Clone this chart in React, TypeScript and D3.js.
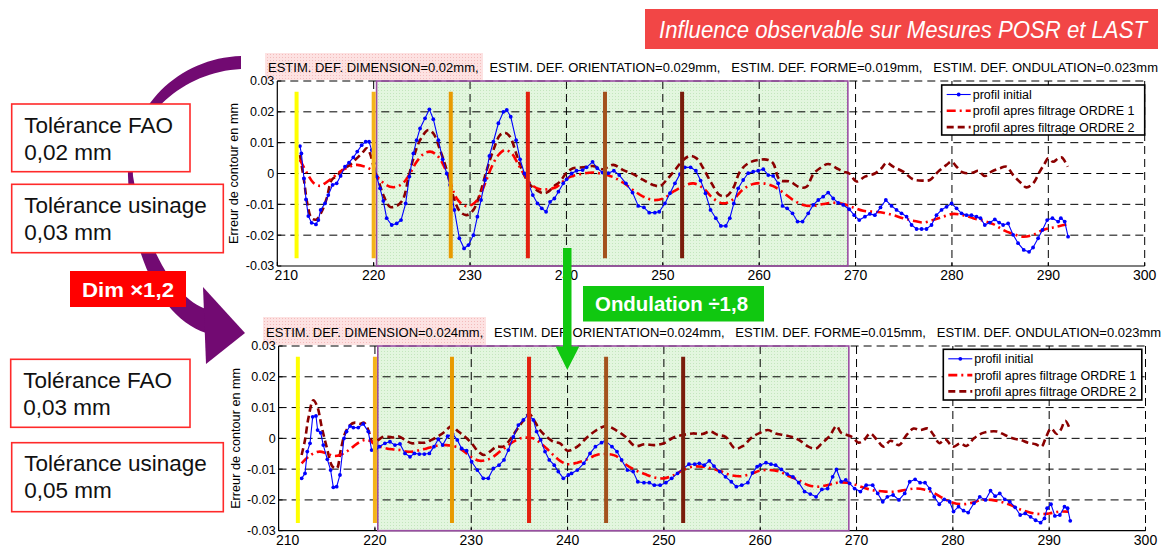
import React from 'react';
import * as d3 from 'd3';

type Pt = [number, number];

// axes / annotations
const xTicks = [210, 220, 230, 240, 250, 260, 270, 280, 290, 300];
const yTicks = [-0.03, -0.02, -0.01, 0, 0.01, 0.02, 0.03];
const barPositions = [212, 220, 228, 236, 244, 252];
const barColors = ['#ffff00', '#f4b41a', '#e89a00', '#e3200f', '#a3511c', '#7a1c0c'];
const barRange: Pt = [-0.0275, 0.0265];
const zone: Pt = [220.3, 269.2];
const legendLabels = ['profil initial', 'profil apres filtrage ORDRE 1', 'profil apres filtrage ORDRE 2'];
const title = 'Influence observable sur Mesures POSR et LAST';
const topSubtitle =
  'ESTIM. DEF. DIMENSION=0.02mm,   ESTIM. DEF. ORIENTATION=0.029mm,   ESTIM. DEF. FORME=0.019mm,   ESTIM. DEF. ONDULATION=0.023mm';
const bottomSubtitle =
  'ESTIM. DEF. DIMENSION=0.024mm,   ESTIM. DEF. ORIENTATION=0.024mm,   ESTIM. DEF. FORME=0.015mm,   ESTIM. DEF. ONDULATION=0.023mm';
const topTolerances = [['Tolérance FAO', '0,02 mm'], ['Tolérance usinage', '0,03 mm']];
const bottomTolerances = [['Tolérance FAO', '0,03 mm'], ['Tolérance usinage', '0,05 mm']];
const dimLabel = 'Dim ×1,2';
const ondLabel = 'Ondulation ÷1,8';

// top chart (Dim x1)
const topInitial: Pt[] = [
  [212.35, 0.0089], [212.5, 0.0065], [212.77, -0.0016], [212.98, -0.0084], [213.22, -0.0138], [213.56, -0.016],
  [214.01, -0.0165], [214.26, -0.0151], [214.5, -0.0118], [214.95, -0.0097], [215.29, -0.007], [215.74, -0.0037],
  [216.16, -0.0032], [216.57, -0.0008], [217.02, 0.0022], [217.44, 0.0035], [217.89, 0.0052], [218.3, 0.0071],
  [218.75, 0.0092], [219.17, 0.0103], [219.52, 0.0103], [219.79, 0.0076], [220.03, 0.0033], [220.31, -0.001],
  [220.66, -0.0048], [221.0, -0.0089], [221.35, -0.0145], [221.87, -0.0167], [222.39, -0.0162], [222.84, -0.0151],
  [223.32, -0.0097], [223.7, -0.001], [224.12, 0.0065], [224.46, 0.0108], [224.81, 0.0146], [225.33, 0.0179],
  [225.78, 0.0208], [226.19, 0.0176], [226.71, 0.0108], [227.16, 0.0046], [227.58, 0.0], [227.92, -0.0037],
  [228.37, -0.0118], [228.89, -0.021], [229.38, -0.0243], [229.83, -0.0232], [230.35, -0.02], [230.76, -0.014],
  [231.14, -0.0086], [231.56, -0.0021], [232.01, 0.0057], [232.42, 0.0103], [232.94, 0.0163], [233.46, 0.02],
  [233.81, 0.0206], [234.22, 0.0184], [234.78, 0.0108], [235.19, 0.0046], [235.64, 0.0], [236.06, -0.0032],
  [236.51, -0.007], [236.99, -0.0097], [237.44, -0.0113], [237.89, -0.0124], [238.3, -0.0092], [238.75, -0.0081],
  [239.17, -0.0059], [239.67, -0.0032], [240.02, -0.0019], [240.54, 0.0], [241.05, 0.0009], [241.68, 0.0011],
  [242.09, 0.002], [242.71, 0.0038], [243.2, 0.0017], [243.75, 0.0003], [244.34, 0.0001], [244.92, 0.0009],
  [245.48, -0.0005], [246.17, -0.0032], [246.86, -0.0062], [247.45, -0.0105], [248.04, -0.011], [248.59, -0.0127],
  [249.18, -0.0127], [249.63, -0.0124], [250.22, -0.0097], [250.74, -0.0064], [251.26, -0.0032], [251.78, -0.0002],
  [252.29, 0.002], [252.88, 0.002], [253.43, 0.0009], [253.92, -0.0023], [254.43, -0.0064], [254.95, -0.0118],
  [255.5, -0.0145], [256.02, -0.017], [256.54, -0.017], [256.95, -0.0145], [257.37, -0.0097], [257.82, -0.0048],
  [258.34, -0.0021], [258.86, 0.0001], [259.38, 0.0006], [259.9, 0.0009], [260.42, 0.0014], [260.94, -0.0005],
  [261.45, -0.0008], [261.97, -0.0032], [262.42, -0.0105], [262.9, -0.0113], [263.46, -0.0129], [263.98, -0.0156],
  [264.5, -0.0156], [265.09, -0.0129], [265.61, -0.0102], [266.13, -0.0086], [266.64, -0.0075], [267.16, -0.0062],
  [267.68, -0.0081], [268.2, -0.0095], [268.72, -0.0102], [269.34, -0.0116], [269.86, -0.0135], [270.38, -0.0151],
  [270.97, -0.014], [271.48, -0.0131], [272.0, -0.0135], [272.59, -0.011], [273.14, -0.0086], [273.73, -0.0105],
  [274.25, -0.0118], [274.77, -0.0129], [275.29, -0.014], [275.81, -0.0167], [276.33, -0.018], [276.85, -0.018],
  [277.36, -0.018], [277.88, -0.0167], [278.4, -0.0135], [278.92, -0.0118], [279.44, -0.0108], [279.96, -0.0097],
  [280.48, -0.0113], [280.99, -0.0129], [281.51, -0.0135], [282.03, -0.0135], [282.55, -0.014], [282.96, -0.0145],
  [283.41, -0.0167], [283.93, -0.0159], [284.45, -0.0149], [284.9, -0.0159], [285.31, -0.0167], [285.83, -0.0162],
  [286.35, -0.0199], [286.86, -0.0226], [287.45, -0.0248], [288.0, -0.0254], [288.42, -0.024], [288.94, -0.021],
  [289.39, -0.0183], [289.88, -0.0151], [290.43, -0.0145], [291.02, -0.0156], [291.3, -0.0145], [291.7, -0.0156],
  [292.05, -0.0205],
];
const topOrdre1: Pt[] = [
  [212.35, 0.0044], [213.11, 0.0], [213.74, -0.003], [214.43, -0.004], [214.95, -0.0032], [215.64, -0.0016],
  [216.51, 0.0006], [217.37, 0.002], [218.24, 0.0028], [219.1, 0.0022], [219.79, 0.0011], [220.31, -0.0008],
  [221.0, -0.003], [221.7, -0.0043], [222.39, -0.0043], [223.08, -0.003], [223.77, 0.0], [224.46, 0.0038],
  [225.16, 0.0063], [225.85, 0.0071], [226.54, 0.006], [227.23, 0.0028], [227.92, -0.0026], [228.62, -0.0081],
  [229.48, -0.0105], [230.17, -0.0102], [230.87, -0.0081], [231.56, -0.0032], [232.25, 0.0022], [232.94, 0.006],
  [233.63, 0.0076], [234.33, 0.0065], [235.02, 0.0028], [235.71, -0.0008], [236.4, -0.0037], [237.27, -0.0051],
  [238.13, -0.0051], [239.0, -0.0043], [240.02, -0.0016], [240.7, -0.0008], [241.75, 0.0], [242.8, 0.0003],
  [243.8, -0.0002], [244.86, -0.0012], [245.9, -0.003], [246.93, -0.0054], [247.97, -0.0075], [249.0, -0.0086],
  [250.05, -0.0081], [251.08, -0.0059], [252.12, -0.0041], [253.16, -0.0032], [254.2, -0.0048], [255.23, -0.0081],
  [256.27, -0.0097], [257.3, -0.0084], [258.34, -0.0051], [259.38, -0.0034], [260.42, -0.0032], [261.45, -0.0041],
  [262.49, -0.0062], [263.53, -0.0086], [264.57, -0.0102], [265.61, -0.0105], [266.64, -0.0099], [267.68, -0.0095],
  [268.72, -0.0099], [269.75, -0.011], [270.79, -0.0121], [271.83, -0.0124], [272.87, -0.0127], [273.9, -0.0135],
  [274.94, -0.0145], [275.98, -0.0153], [277.01, -0.0159], [278.05, -0.0151], [279.09, -0.014], [280.13, -0.0131],
  [281.16, -0.0135], [282.2, -0.0145], [283.24, -0.0153], [284.28, -0.0164], [285.31, -0.0183], [286.35, -0.0196],
  [287.39, -0.0205], [288.42, -0.0199], [289.46, -0.0183], [290.5, -0.0175], [291.19, -0.017], [292.0, -0.0165],
];
const topOrdre2: Pt[] = [
  [212.35, 0.006], [212.77, -0.0021], [213.11, -0.0097], [213.56, -0.0145], [214.08, -0.0149], [214.6, -0.0124],
  [215.12, -0.0081], [215.64, -0.0021], [216.16, -0.0008], [216.85, 0.0014], [217.54, 0.0028], [218.24, 0.0049],
  [218.93, 0.0071], [219.27, 0.0082], [219.62, 0.0065], [220.03, 0.0017], [220.48, -0.0021], [221.0, -0.007],
  [221.7, -0.0108], [222.39, -0.0105], [223.01, -0.0086], [223.6, -0.0016], [224.12, 0.0049], [224.81, 0.0108],
  [225.67, 0.0141], [226.19, 0.013], [226.89, 0.0076], [227.58, 0.0011], [228.27, -0.0075], [228.96, -0.0124],
  [229.65, -0.0135], [230.35, -0.0118], [231.04, -0.0064], [231.73, 0.0011], [232.42, 0.0076], [233.11, 0.0125],
  [233.63, 0.0132], [234.15, 0.0119], [234.84, 0.006], [235.54, 0.0], [236.23, -0.0037], [236.92, -0.0054],
  [237.61, -0.0064], [238.13, -0.0059], [238.65, -0.0043], [239.34, -0.0026], [240.02, 0.0003], [240.7, 0.0017],
  [241.75, 0.002], [242.8, 0.0024], [243.8, 0.0014], [244.86, 0.0028], [245.9, 0.0011], [246.93, -0.0002],
  [247.97, -0.0021], [249.0, -0.0037], [249.7, -0.0041], [250.39, -0.0021], [251.26, 0.0011], [252.12, 0.0044],
  [252.81, 0.0057], [253.5, 0.0049], [254.2, 0.0017], [255.06, -0.0032], [255.92, -0.007], [256.61, -0.0073],
  [257.3, -0.0048], [258.0, 0.0006], [258.86, 0.0033], [259.9, 0.0044], [260.94, 0.0044], [261.45, 0.0033],
  [262.14, -0.0021], [263.18, -0.0026], [264.22, -0.0045], [264.91, -0.0043], [265.61, -0.0002], [266.3, 0.0017],
  [267.16, 0.0031], [268.03, 0.0017], [268.72, 0.0006], [269.34, 0.0], [270.1, -0.0026], [270.97, -0.001],
  [272.0, 0.0], [272.69, 0.0017], [273.21, 0.0035], [273.9, 0.0022], [274.94, 0.0006], [275.98, -0.0019],
  [277.01, -0.0023], [277.71, -0.0021], [278.57, 0.0006], [279.44, 0.0028], [279.96, 0.0038], [280.48, 0.0022],
  [281.16, 0.0003], [282.2, 0.0003], [282.72, 0.0009], [283.41, -0.0008], [284.1, 0.0006], [284.97, 0.0017],
  [285.66, 0.0022], [286.35, -0.0005], [287.21, -0.0032], [287.73, -0.0045], [288.42, -0.0032], [289.11, 0.0006],
  [289.63, 0.0033], [289.98, 0.0049], [290.5, 0.0038], [291.02, 0.0049], [291.4, 0.0052], [292.0, 0.0022],
];

// bottom chart (Dim x1.2)
const bottomInitial: Pt[] = [
  [212.39, -0.013], [212.74, -0.0114], [212.98, -0.0043], [213.26, -0.0016], [213.54, 0.007], [213.88, 0.0073],
  [214.05, 0.0027], [214.37, 0.0018], [214.64, -0.0022], [215.06, -0.0068], [215.4, -0.0103], [215.68, -0.0159],
  [216.03, -0.0157], [216.37, -0.0119], [216.79, 0.0], [217.06, 0.0022], [217.41, 0.004], [217.76, 0.0035],
  [218.27, 0.0035], [218.79, 0.0047], [219.31, 0.0022], [219.66, -0.0038], [220.0, -0.0043], [220.45, -0.0027],
  [221.04, -0.0016], [221.56, -0.0011], [222.08, -0.0022], [222.6, -0.0018], [223.12, -0.0049], [223.64, -0.006],
  [224.09, -0.0049], [224.61, -0.0051], [225.13, -0.0051], [225.65, -0.0049], [226.13, -0.0027], [226.58, -0.0003],
  [227.03, -0.0022], [227.55, 0.0007], [228.07, 0.0014], [228.55, -0.0005], [229.0, -0.0033], [229.52, -0.004],
  [230.04, -0.0076], [230.63, -0.0103], [231.25, -0.013], [231.77, -0.013], [232.29, -0.0098], [232.88, -0.0087],
  [233.4, -0.007], [233.85, -0.0038], [234.37, 0.0005], [234.89, 0.0043], [235.41, 0.006], [235.93, 0.0076],
  [236.45, 0.006], [236.79, 0.0022], [237.21, -0.0005], [237.66, -0.0043], [238.1, -0.007], [238.62, -0.0087],
  [239.04, -0.0108], [239.56, -0.013], [240.08, -0.0119], [240.41, -0.0114], [241.01, -0.0103], [241.69, -0.0081],
  [242.33, -0.0049], [242.89, -0.0027], [243.53, -0.0014], [243.93, -0.0008], [244.61, -0.0027], [245.13, -0.0043],
  [245.61, -0.007], [246.21, -0.0103], [246.81, -0.0108], [247.29, -0.0141], [247.93, -0.0144], [248.49, -0.0144],
  [249.01, -0.0152], [249.61, -0.0152], [250.21, -0.0144], [250.81, -0.013], [251.41, -0.0114], [252.0, -0.0098],
  [252.6, -0.0084], [253.2, -0.0084], [253.68, -0.0081], [254.2, -0.0087], [254.72, -0.0073], [255.2, -0.009],
  [255.8, -0.0108], [256.4, -0.0125], [257.0, -0.0141], [257.52, -0.0157], [258.08, -0.0152], [258.72, -0.0144],
  [259.2, -0.0112], [259.68, -0.0092], [260.0, -0.0087], [260.6, -0.0079], [261.12, -0.0084], [261.6, -0.0087],
  [262.2, -0.0101], [262.8, -0.0116], [263.4, -0.0125], [264.0, -0.0144], [264.6, -0.0173], [265.2, -0.0181],
  [265.8, -0.019], [266.4, -0.0166], [267.0, -0.0163], [267.52, -0.0125], [267.92, -0.0101], [268.4, -0.0141],
  [268.88, -0.0135], [269.28, -0.0146], [269.8, -0.0163], [270.4, -0.0173], [271.0, -0.0152], [271.68, -0.0152],
  [272.2, -0.0179], [272.72, -0.0206], [273.2, -0.019], [273.8, -0.0184], [274.4, -0.02], [275.0, -0.0179],
  [275.52, -0.0141], [276.08, -0.0133], [276.6, -0.0144], [277.11, -0.0144], [277.59, -0.0163], [278.07, -0.019],
  [278.59, -0.0214], [279.11, -0.0198], [279.67, -0.0206], [280.07, -0.0238], [280.59, -0.0222], [281.11, -0.0235],
  [281.59, -0.0241], [282.19, -0.0211], [282.79, -0.019], [283.39, -0.02], [283.91, -0.017], [284.39, -0.0188],
  [284.87, -0.0179], [285.39, -0.0198], [285.91, -0.0206], [286.47, -0.0224], [286.99, -0.0249], [287.51, -0.0244],
  [288.07, -0.0255], [288.59, -0.0266], [289.11, -0.0274], [289.51, -0.026], [289.79, -0.0227], [290.19, -0.0214],
  [290.59, -0.0252], [291.11, -0.0249], [291.59, -0.0222], [291.91, -0.0227], [292.19, -0.0268],
];
const bottomOrdre1: Pt[] = [
  [212.39, -0.0081], [212.91, -0.0065], [213.6, -0.0049], [214.29, -0.0043], [214.98, -0.0049], [215.68, -0.0057],
  [216.37, -0.0054], [217.06, -0.0043], [217.76, -0.0027], [218.45, -0.0011], [219.14, -0.0005], [219.83, -0.0014],
  [220.52, -0.0027], [221.22, -0.0033], [221.91, -0.0036], [222.6, -0.0038], [223.29, -0.0043], [223.98, -0.0043],
  [224.67, -0.0038], [225.36, -0.0033], [226.06, -0.0027], [226.75, -0.0022], [227.44, -0.0022], [228.13, -0.0025],
  [228.83, -0.0033], [229.52, -0.0049], [230.21, -0.0065], [230.9, -0.0073], [231.6, -0.007], [232.29, -0.006],
  [232.98, -0.0043], [233.67, -0.0027], [234.37, -0.0011], [235.06, 0.0], [235.75, 0.0003], [236.45, 0.0],
  [237.14, -0.0014], [237.83, -0.0033], [238.52, -0.0054], [239.22, -0.0073], [240.0, -0.0084], [241.01, -0.0079],
  [242.01, -0.0068], [243.01, -0.0054], [244.01, -0.0051], [245.01, -0.0057], [246.01, -0.0084], [247.01, -0.0103],
  [248.01, -0.0116], [249.01, -0.0127], [250.0, -0.013], [251.01, -0.012], [252.0, -0.0103], [253.0, -0.0092],
  [254.0, -0.0092], [255.0, -0.0098], [256.0, -0.0108], [257.0, -0.012], [258.0, -0.0123], [259.0, -0.0116],
  [260.0, -0.0105], [261.0, -0.0103], [262.0, -0.0108], [263.0, -0.0123], [264.0, -0.0136], [265.0, -0.0152],
  [266.0, -0.0157], [267.0, -0.0152], [268.0, -0.0144], [269.0, -0.0144], [270.0, -0.0152], [271.0, -0.0163],
  [272.0, -0.017], [273.0, -0.0173], [274.0, -0.0173], [275.0, -0.0168], [276.0, -0.0163], [277.0, -0.0166],
  [278.0, -0.0177], [279.0, -0.0195], [280.0, -0.0209], [281.0, -0.0214], [282.0, -0.0209], [283.0, -0.02],
  [284.0, -0.02], [285.0, -0.0206], [286.0, -0.0217], [287.0, -0.0231], [288.0, -0.0241], [289.0, -0.0246],
  [290.0, -0.0244], [291.0, -0.0238], [292.0, -0.0238],
];
const bottomOrdre2: Pt[] = [
  [212.39, -0.0054], [212.74, -0.0005], [213.09, 0.0065], [213.6, 0.0124], [214.02, 0.0103], [214.47, 0.0038],
  [214.98, -0.0027], [215.6, -0.0092], [216.03, -0.0098], [216.45, -0.0038], [216.89, 0.0016], [217.41, 0.0043],
  [217.93, 0.0051], [218.45, 0.0047], [218.87, 0.0051], [219.31, 0.0027], [219.83, -0.0016], [220.35, -0.0005],
  [220.87, 0.0005], [221.39, 0.0005], [221.91, 0.0003], [222.43, 0.0007], [223.12, -0.0005], [223.81, -0.0016],
  [224.5, -0.0014], [225.19, -0.0014], [225.88, -0.0005], [226.58, 0.0007], [227.27, 0.0022], [227.96, 0.004],
  [228.66, 0.0022], [229.35, 0.0005], [230.04, -0.0016], [230.73, -0.0043], [231.32, -0.0054], [231.94, -0.0043],
  [232.63, -0.0027], [233.32, -0.0027], [234.01, -0.0005], [234.71, 0.0027], [235.4, 0.0057], [236.02, 0.0079],
  [236.61, 0.0054], [237.13, 0.0027], [237.82, 0.0005], [238.52, -0.0011], [239.22, -0.0016], [240.0, -0.004],
  [241.01, -0.0027], [242.01, 0.0003], [243.01, 0.0027], [244.01, 0.004], [245.01, 0.0027], [246.01, 0.0005],
  [247.01, -0.0025], [248.01, -0.0019], [249.01, -0.0022], [250.0, -0.0016], [251.01, 0.0003], [252.0, 0.0011],
  [253.0, 0.0016], [254.0, 0.0014], [254.8, 0.0022], [255.6, 0.0011], [256.4, 0.0005], [257.4, -0.0033],
  [258.2, -0.0025], [259.2, 0.0005], [260.0, 0.0018], [260.8, 0.0027], [261.6, 0.0016], [262.4, 0.0011],
  [263.2, 0.0005], [264.0, -0.0005], [265.0, -0.0027], [265.8, -0.0033], [266.4, -0.0016], [267.2, 0.0007],
  [267.92, 0.004], [268.4, 0.0018], [269.0, 0.0011], [269.6, 0.0003], [270.2, -0.0014], [270.8, -0.0005],
  [271.4, 0.0016], [272.08, -0.0003], [272.8, -0.0027], [273.52, -0.0008], [274.4, -0.0022], [275.2, 0.0011],
  [275.92, 0.0032], [276.6, 0.0027], [277.4, 0.0032], [278.0, 0.0011], [278.6, -0.0016], [279.2, -0.0003],
  [280.0, -0.0027], [280.8, -0.0016], [281.4, -0.0025], [282.2, 0.0], [283.0, 0.0016], [283.8, 0.0022],
  [284.6, 0.0022], [285.4, 0.0011], [286.2, 0.0], [287.0, -0.0005], [287.8, -0.0014], [288.6, -0.0019],
  [289.2, -0.0027], [289.68, 0.0005], [290.19, 0.0032], [290.79, 0.0014], [291.19, 0.0027], [291.67, 0.0057],
  [292.19, 0.0027],
];

const FONT = 'Liberation Sans, Arial, sans-serif';
const BLUE = '#0000ff';
const RED = '#ff0000';
const DARKRED = '#8b0000';
const PURPLE = '#720a72';
const GREEN = '#10c810';

type Box = { x: number; y: number; w: number; h: number };
type PanelProps = {
  frame: { left: number; right: number; top: number; bottom: number };
  initial: Pt[];
  ordre1: Pt[];
  ordre2: Pt[];
  subtitle: string;
  pink: Box;
  subtitleBaseline: number;
  subtitleLength: number;
  legend: Box;
};

function Panel({ frame, initial, ordre1, ordre2, subtitle, pink, subtitleBaseline, subtitleLength, legend }: PanelProps) {
  const { left, right, top, bottom } = frame;
  const x = d3.scaleLinear().domain([210, 300]).range([left, right]);
  const y = d3.scaleLinear().domain([-0.03, 0.03]).range([bottom, top]);
  const straight = d3.line<Pt>().x((d) => x(d[0])).y((d) => y(d[1]));
  const smooth = d3
    .line<Pt>()
    .x((d) => x(d[0]))
    .y((d) => y(d[1]))
    .curve(d3.curveCatmullRom.alpha(0.5));
  const fmt = (v: number) => (v === 0 ? '0' : v.toFixed(2));
  const dash = '8,5';

  return (
    <g>
      {/* pink highlight + estimation line */}
      <rect x={pink.x} y={pink.y} width={pink.w} height={pink.h} fill="url(#pinkDots)" />
      <text
        x={pink.x + 3}
        y={subtitleBaseline}
        fontFamily={FONT}
        fontSize={12}
        textLength={subtitleLength}
        lengthAdjust="spacingAndGlyphs"
        style={{ whiteSpace: 'pre' }}
      >
        {subtitle}
      </text>

      {/* shaded zone */}
      <rect x={x(zone[0])} y={top} width={x(zone[1]) - x(zone[0])} height={bottom - top} fill="url(#greenDots)" />

      {/* grid */}
      {xTicks.slice(1).map((t) => (
        <line key={'gx' + t} x1={x(t)} x2={x(t)} y1={top} y2={bottom} stroke="#000" strokeWidth={1} strokeDasharray={dash} />
      ))}
      {yTicks.slice(1).map((t) => (
        <line key={'gy' + t} x1={left} x2={right} y1={y(t)} y2={y(t)} stroke="#000" strokeWidth={1} strokeDasharray={dash} />
      ))}

      {/* axes */}
      <line x1={left} x2={left} y1={top} y2={bottom} stroke="#000" strokeWidth={1.2} />
      <line x1={left} x2={right} y1={bottom} y2={bottom} stroke="#000" strokeWidth={1.2} />
      {yTicks.map((t) => (
        <g key={'ty' + t}>
          <line x1={left} x2={left + 4} y1={y(t)} y2={y(t)} stroke="#000" />
          <text x={left - 3} y={y(t)} dy="0.35em" textAnchor="end" fontFamily={FONT} fontSize={12.5}>
            {fmt(t)}
          </text>
        </g>
      ))}
      {xTicks.map((t, i) => (
        <g key={'tx' + t}>
          <line x1={x(t)} x2={x(t)} y1={bottom} y2={bottom - 4} stroke="#000" />
          <text x={x(t) + (i === 0 ? 9 : 0)} y={bottom + 14.3} textAnchor="middle" fontFamily={FONT} fontSize={14}>
            {t}
          </text>
        </g>
      ))}
      <text
        transform={`translate(${left - 39},${(top + bottom) / 2}) rotate(-90)`}
        textAnchor="middle"
        fontFamily={FONT}
        fontSize={12.7}
      >
        Erreur de contour en mm
      </text>

      {/* zone border */}
      <rect
        x={x(zone[0])}
        y={top}
        width={x(zone[1]) - x(zone[0])}
        height={bottom - top}
        fill="none"
        stroke="#9a4ea3"
        strokeWidth={1.6}
      />

      {/* curves */}
      <path d={smooth(ordre2) ?? ''} fill="none" stroke={DARKRED} strokeWidth={2.6} strokeDasharray="7,4" />
      <path d={smooth(ordre1) ?? ''} fill="none" stroke={RED} strokeWidth={2.6} strokeDasharray="9,4,2,4" />
      <path d={straight(initial) ?? ''} fill="none" stroke={BLUE} strokeWidth={1.1} />
      {initial.map((d, i) => (
        <circle key={'m' + i} cx={x(d[0])} cy={y(d[1])} r={1.9} fill={BLUE} />
      ))}

      {/* reference bars */}
      {barPositions.map((b, i) => (
        <line
          key={'b' + b}
          x1={x(b)}
          x2={x(b)}
          y1={y(barRange[1])}
          y2={y(barRange[0])}
          stroke={barColors[i]}
          strokeWidth={4}
        />
      ))}

      {/* legend */}
      <g transform={`translate(${legend.x},${legend.y})`}>
        <rect width={legend.w} height={legend.h} fill="#fff" stroke="#000" strokeWidth={1.6} />
        {legendLabels.map((lab, i) => {
          const base = 14 + i * 16.3;
          const ly = base - 4.5;
          return (
            <g key={lab}>
              {i === 0 && (
                <>
                  <line x1={5} x2={29} y1={ly} y2={ly} stroke={BLUE} strokeWidth={1.1} />
                  <circle cx={17} cy={ly} r={1.9} fill={BLUE} />
                </>
              )}
              {i === 1 && <line x1={5} x2={29} y1={ly} y2={ly} stroke={RED} strokeWidth={2.6} strokeDasharray="9,4,2,4" />}
              {i === 2 && <line x1={5} x2={29} y1={ly} y2={ly} stroke={DARKRED} strokeWidth={2.6} strokeDasharray="7,4" />}
              <text x={31} y={base} fontFamily={FONT} fontSize={12.5}>
                {lab}
              </text>
            </g>
          );
        })}
      </g>
    </g>
  );
}

function ToleranceBox({ box, lines }: { box: Box; lines: string[] }) {
  return (
    <g>
      <rect x={box.x} y={box.y} width={box.w} height={box.h} fill="#fff" stroke="#ff2a2a" strokeWidth={1.6} />
      <text x={box.x + 12.5} y={box.y + 28.5} fontFamily={FONT} fontSize={22.5} fill="#111">
        {lines[0]}
      </text>
      <text x={box.x + 12.5} y={box.y + 55.5} fontFamily={FONT} fontSize={22.5} fill="#111">
        {lines[1]}
      </text>
    </g>
  );
}

export default function App() {
  return (
    <svg
      width={1164}
      height={546}
      viewBox="0 0 1164 546"
      style={{ position: 'absolute', left: 0, top: 0, background: '#fff' }}
    >
      <defs>
        <pattern id="greenDots" width={3} height={3} patternUnits="userSpaceOnUse">
          <rect width={3} height={3} fill="#e3f6df" />
          <rect width={1} height={1} fill="#c3e6bd" />
        </pattern>
        <pattern id="pinkDots" width={3} height={3} patternUnits="userSpaceOnUse">
          <rect width={3} height={3} fill="#fde2e2" />
          <rect width={1} height={1} fill="#f3bcbc" />
        </pattern>
      </defs>

      {/* title banner */}
      <rect x={645} y={9} width={513} height={40} fill="#f24646" />
      <text
        x={659}
        y={38}
        fontFamily={FONT}
        fontStyle="italic"
        fontSize={23}
        fill="#fff"
        textLength={488}
        lengthAdjust="spacingAndGlyphs"
      >
        {title}
      </text>

      <Panel
        frame={{ left: 277.3, right: 1144.7, top: 81, bottom: 266 }}
        initial={topInitial}
        ordre1={topOrdre1}
        ordre2={topOrdre2}
        subtitle={topSubtitle}
        pink={{ x: 265, y: 53, w: 218, h: 27 }}
        subtitleBaseline={71.5}
        subtitleLength={890}
        legend={{ x: 941.7, y: 85, w: 203, h: 50 }}
      />
      <Panel
        frame={{ left: 278.6, right: 1145.5, top: 346, bottom: 530.7 }}
        initial={bottomInitial}
        ordre1={bottomOrdre1}
        ordre2={bottomOrdre2}
        subtitle={bottomSubtitle}
        pink={{ x: 263, y: 317, w: 223, h: 28 }}
        subtitleBaseline={336.5}
        subtitleLength={895}
        legend={{ x: 943.3, y: 349.3, w: 198.5, h: 50.7 }}
      />

      {/* purple curved arrow */}
      <path
        d="M241,56 C178,58 126,108 128,176 C130,252 160,318 206,333 L206,309 C178,300 145,252 133,176 C130,118 182,72 241,69 Z"
        fill={PURPLE}
      />
      <polygon points="203,287 245,333 206,364" fill={PURPLE} />

      <ToleranceBox box={{ x: 11.7, y: 104, w: 178.3, h: 67.7 }} lines={topTolerances[0]} />
      <ToleranceBox box={{ x: 11.7, y: 184.3, w: 211.6, h: 68.4 }} lines={topTolerances[1]} />
      <ToleranceBox box={{ x: 10.7, y: 359.3, w: 179.3, h: 68 }} lines={bottomTolerances[0]} />
      <ToleranceBox box={{ x: 11.7, y: 442.7, w: 211.6, h: 69 }} lines={bottomTolerances[1]} />

      {/* Dim label */}
      <rect x={70} y={271} width={116} height={36} fill="#ff0000" />
      <text
        x={82}
        y={296.5}
        fontFamily={FONT}
        fontWeight="bold"
        fontSize={20}
        fill="#fff"
        textLength={92}
        lengthAdjust="spacingAndGlyphs"
      >
        {dimLabel}
      </text>

      {/* green arrow + Ondulation label */}
      <rect x={563} y={248} width={8.5} height={99} fill={GREEN} />
      <polygon points="555.7,346.5 579.3,346.5 567.3,370" fill={GREEN} />
      <rect x={583} y={286} width={181} height={35.5} fill={GREEN} />
      <text
        x={595}
        y={311}
        fontFamily={FONT}
        fontWeight="bold"
        fontSize={20}
        fill="#fff"
        textLength={153}
        lengthAdjust="spacingAndGlyphs"
      >
        {ondLabel}
      </text>
    </svg>
  );
}
